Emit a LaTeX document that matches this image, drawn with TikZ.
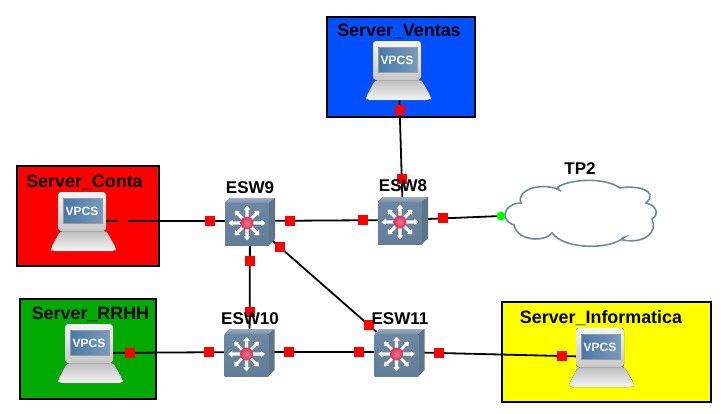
\documentclass[tikz,border=0pt]{standalone}
\usepackage{fontspec}
\setmainfont{Liberation Sans}
\pgfdeclarelayer{boxes}
\pgfdeclarelayer{links}
\pgfsetlayers{boxes,links,main}
\definecolor{vblue}{RGB}{0,80,255}
\definecolor{rgreen}{RGB}{0,170,0}
\definecolor{ryellow}{RGB}{255,255,0}
\definecolor{rred}{RGB}{255,0,0}
\definecolor{rlime}{RGB}{0,255,0}
\definecolor{cloudline}{RGB}{110,140,148}
\definecolor{swfront}{RGB}{108,135,163}
\definecolor{swfrontb}{RGB}{98,125,152}
\definecolor{swtop}{RGB}{155,172,192}
\definecolor{swtopb}{RGB}{120,145,170}
\definecolor{swside}{RGB}{92,118,135}
\definecolor{swedge}{RGB}{90,110,130}
\definecolor{hubin}{RGB}{245,120,140}
\definecolor{hubout}{RGB}{215,50,90}
\definecolor{scrl}{RGB}{72,120,168}
\definecolor{scrr}{RGB}{120,155,190}
\tikzset{
  x=1pt,y=-1pt,
  box/.style={draw=black,line width=2pt,inner sep=0pt,outer sep=0pt},
  srvlbl/.style={inner sep=0pt,font=\fontsize{17.9}{19}\selectfont\bfseries,text=black},
  lbl/.style={inner sep=0pt,font=\fontsize{17}{19}\selectfont\bfseries,text=black},
  devnode/.style={inner sep=0pt,minimum width=50pt,minimum height=47pt},
  hostnode/.style={inner sep=0pt,minimum width=65pt,minimum height=59pt},
  link/.style={draw=black,line width=1.8pt},
  sq/.style={fill=rred,draw=none,minimum size=10pt,inner sep=0pt,pos=#1},
  dot/.style={circle,fill=rlime,draw=none,minimum size=9pt,inner sep=0pt},
  swicon/.pic={
    \fill[top color=swtop,bottom color=swtopb] (-25,-18) -- (-20,-23) -- (25,-23) -- (19,-18) -- cycle;
    \fill[swside] (19,-18) -- (25,-23) -- (25,18) -- (19,24) -- cycle;
    \fill[top color=swfront,bottom color=swfrontb] (-25,-18) rectangle (19,24);
    \foreach \a/\l in {0/19,90/18,180/19,270/18,45/18,135/18,225/18,315/18}{
      \fill[white,draw=swedge,line width=.3pt,shift={(-3,2)},rotate=\a]
        (4,-1.8) -- (\l-5,-1.8) -- (\l-5,-4) -- (\l,0) -- (\l-5,4) -- (\l-5,1.8) -- (4,1.8) -- cycle;
    }
    \shade[inner color=hubin,outer color=hubout] (-3,2) circle[radius=6.5];
  },
  vpcsicon/.pic={
    \fill[top color=white!85!black,bottom color=white!60!black,rounded corners=2pt] (-20,8) -- (19,8) -- (21,12) -- (-21,12) -- cycle;
    \fill[top color=white!75!black,bottom color=white!96!black,rounded corners=3pt]
      (-23.5,10) -- (23,10) -- (32.5,27) -- (32,30) -- (-32,30) -- (-32.5,27) -- cycle;
    \fill[top color=white!96!black,bottom color=white!78!black,rounded corners=3pt] (-25.5,-29) rectangle (22.5,10);
    \fill[left color=scrl,right color=scrr,draw=white!60!black,line width=.5pt] (-20.5,-23) rectangle (18.5,2);
    \node[inner sep=0pt,text=white,font=\fontsize{12}{13}\selectfont\bfseries] (vpcs) at (-1.5,-9.5) {VPCS};
  },
}
\begin{document}
\begin{tikzpicture}
\useasboundingbox (0,0) rectangle (724,413);

% devices
\node[hostnode] (ventas) at (398.5,70) {};
\node[hostnode] (conta) at (83.5,221) {};
\node[hostnode] (rrhh) at (90.5,353) {};
\node[hostnode] (informatica) at (601.5,357) {};
\node[devnode] (esw9) at (250,221) {};
\node[devnode] (esw8) at (403,220) {};
\node[devnode] (esw10) at (249.5,352) {};
\node[devnode] (esw11) at (399.5,352) {};
\node[dot] (tpdot) at (501,216) {};

% coloured boxes and cloud
\begin{pgfonlayer}{boxes}
\fill[white] (0,0) rectangle (724,413);
\node[box,fill=vblue,minimum width=148pt,minimum height=100pt] (boxventas) at (400.5,66.5) {};
\node[box,fill=rred,minimum width=142pt,minimum height=100pt] (boxconta) at (88,216) {};
\node[box,fill=rgreen,minimum width=136pt,minimum height=100pt] (boxrrhh) at (88,349) {};
\node[box,fill=ryellow,minimum width=209pt,minimum height=100pt] (boxinfo) at (606.5,352) {};
\draw[draw=cloudline,fill=white,line width=1.6pt]
  (505,215) .. controls (505,208) and (513,203) .. (521,203)
  .. controls (515,189) and (545,181) .. (561,191)
  .. controls (559,191) and (558,189) .. (558,187)
  .. controls (570,179) and (605,177) .. (620,188)
  .. controls (635,185) and (660,190) .. (646,203)
  .. controls (656,205) and (660,214) .. (652,219)
  .. controls (658,232) and (645,244) .. (623,240)
  .. controls (620,238) and (624,237) .. (625,237)
  .. controls (610,250) and (565,250) .. (552,233)
  .. controls (545,242) and (518,242) .. (514,225)
  .. controls (510,224) and (505,220) .. (505,215) -- cycle;
\end{pgfonlayer}

% links with status markers
\begin{pgfonlayer}{links}
\draw[link] (conta.center) -- node[sq=.237] (s1) {} node[sq=.76] (s2) {} (esw9.center);
\draw[link] (esw9.center) -- node[sq=.261] (s3) {} node[sq=.739] (s4) {} (esw8.center);
\draw[link] (ventas.center) -- node[sq=.267] (s5) {} node[sq=.727] (s6) {} (esw8.center);
\draw[link] (esw8.center) -- node[sq=.408] (s7) {} (tpdot.center);
\draw[link] (esw9.center) -- node[sq=.305] (s8) {} node[sq=.695] (s9) {} (esw10.center);
\draw[link] (esw9.center) -- node[sq=.2] (s10) {} node[sq=.796] (s11) {} (esw11.center);
\draw[link] (esw10.center) -- node[sq=.263] (s12) {} node[sq=.73] (s13) {} (esw11.center);
\draw[link] (rrhh.center) -- node[sq=.248] (s14) {} node[sq=.745] (s15) {} (esw10.center);
\draw[link] (esw11.center) -- node[sq=.196] (s16) {} node[sq=.804] (s17) {} (informatica.center);
\end{pgfonlayer}

% icons
\pic at (ventas) {vpcsicon};
\pic at (conta) {vpcsicon};
\pic at (rrhh) {vpcsicon};
\pic at (informatica) {vpcsicon};
\pic at (esw9) {swicon};
\pic at (esw8) {swicon};
\pic at (esw10) {swicon};
\pic at (esw11) {swicon};

% labels
\node[srvlbl] (lventas) at (399,31) {Server\_Ventas};
\node[srvlbl] (lconta) at (84.5,182) {Server\_Conta};
\node[srvlbl] (lrrhh) at (90.5,314) {Server\_RRHH};
\node[srvlbl] (linfo) at (601,318) {Server\_Informatica};
\node[lbl] (l9) at (250,188) {ESW9};
\node[lbl] (l8) at (403,186) {ESW8};
\node[lbl] (l10) at (250,319) {ESW10};
\node[lbl] (l11) at (400,319) {ESW11};
\node[lbl] (ltp) at (580,169) {TP2};
\end{tikzpicture}
\end{document}
